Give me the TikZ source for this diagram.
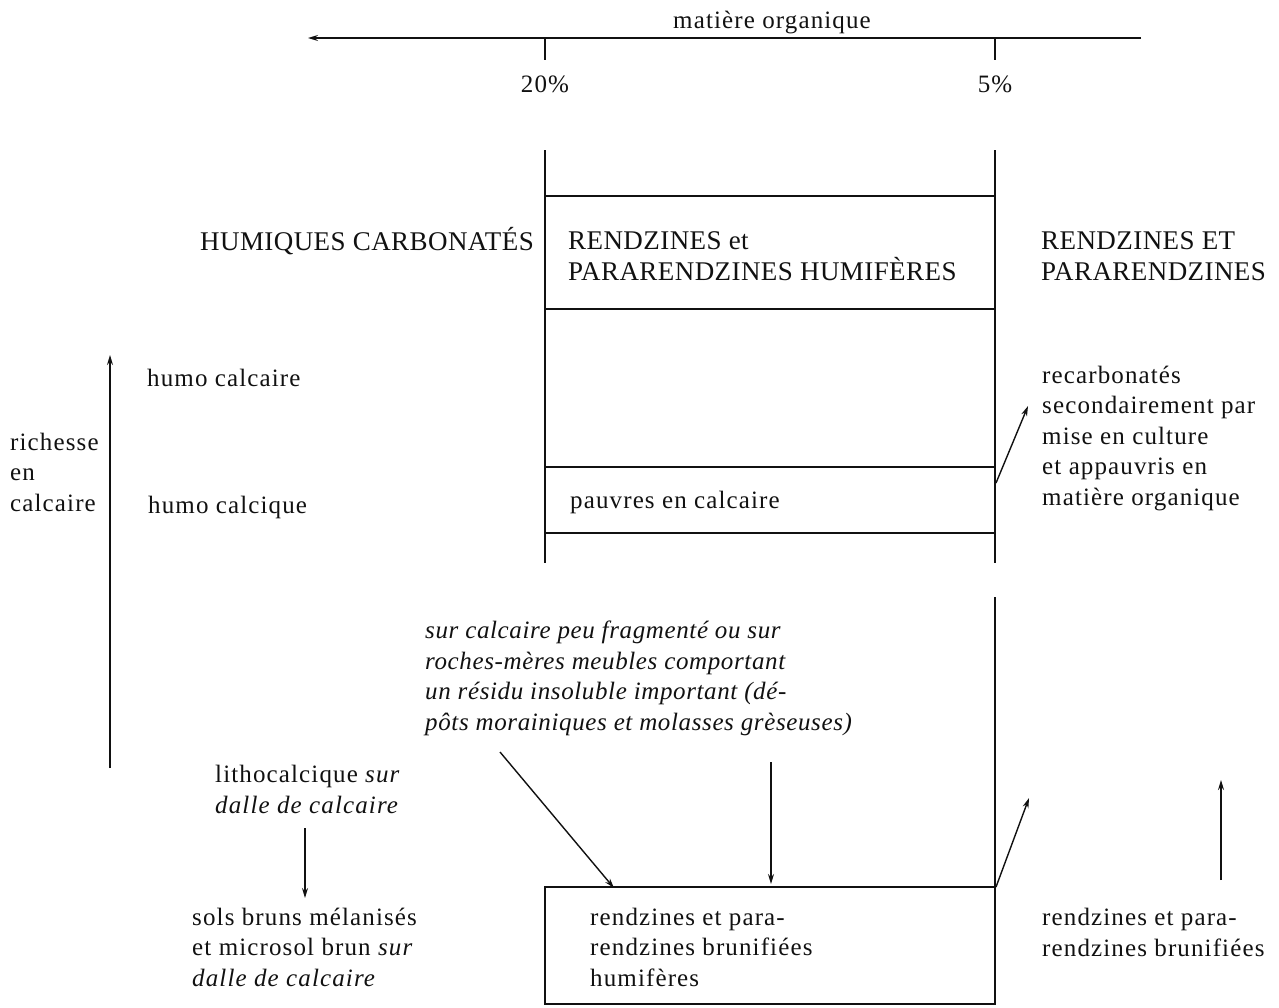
\documentclass[tikz,border=0pt]{standalone}
\usepackage{fontspec}
\setmainfont{Liberation Serif}
\newfontfamily\bodyfont[LetterSpace=4.5]{Liberation Serif}
\newfontfamily\itspaced[LetterSpace=2.5]{Liberation Serif}
\newfontfamily\headfont[LetterSpace=1.6]{Liberation Serif}
\usepackage{tikz}
\usetikzlibrary{arrows.meta}
\definecolor{soilInk}{HTML}{111111}

\tikzset{
  txt/.style={anchor=base west, inner sep=0pt, align=left,
    font=\bodyfont\fontsize{25}{30.4}\selectfont, text=soilInk},
  head/.style={txt, font=\headfont\fontsize{27}{30.4}\selectfont},
  rule/.style={draw=soilInk, line width=1.4pt},
  pointer/.style={rule, -{Stealth[length=10pt,width=6pt]}}
}

\begin{document}
\begin{tikzpicture}[x=1pt,y=-1pt]
    \useasboundingbox (0,0) rectangle (1279,1007);
    % axe de la matiere organique
    \coordinate (axL) at (308,38);
    \coordinate (axR) at (1141,38);
    \draw[pointer] (axR) -- (axL);
    \node[txt] (mo) at (673,28) {matière organique};
    \foreach \x/\p in {545/20, 995/5} {
        \draw[rule] (\x,38) -- (\x,60);
        \node[txt, anchor=base] (pc\p) at (\x,92) {\p\%};
    }
    % tableau
    \draw[rule] (545,150) -- (545,563);
    \draw[rule] (995,150) -- (995,563);
    \foreach \y in {196,309,467,533}
        \draw[rule] (545,\y) -- (995,\y);
    \draw[rule] (995,597) -- (995,887);
    \draw[rule] (545,887) rectangle (995,1004);

    % (base = derniere ligne du texte)
    \node[head] (hc) at (200,250) {HUMIQUES CARBONATÉS};
    \node[head] (rph) at (568,280) {RENDZINES et\\PARARENDZINES HUMIFÈRES};
    \node[head] (rp) at (1041,280) {RENDZINES ET\\PARARENDZINES};
    \node[txt] (hcal) at (147,386) {humo calcaire};
    \node[txt] (hcaq) at (148,513) {humo calcique};
    \node[txt] (rich) at (10,511) {richesse\\en\\calcaire};
    \node[txt] (pauv) at (570,508) {pauvres en calcaire};
    \node[txt] (recarb) at (1042,505) {recarbonatés\\secondairement par\\mise en culture\\et appauvris en\\matière organique};
    \node[txt, font=\itspaced\itshape\fontsize{25}{30.4}\selectfont] (roche) at (425,730)
        {sur calcaire peu fragmenté ou sur\\roches-mères meubles comportant\\un résidu insoluble important (dé-\\pôts morainiques et molasses grèseuses)};
    \node[txt] (litho) at (215,813) {lithocalcique \textit{sur}\\\textit{dalle de calcaire}};
    \node[txt] (sbm) at (192,986) {sols bruns mélanisés\\et microsol brun \textit{sur}\\\textit{dalle de calcaire}};
    \node[txt] (rbh) at (590,986) {rendzines et para-\\rendzines brunifiées\\humifères};
    \node[txt] (rb) at (1042,956) {rendzines et para-\\rendzines brunifiées};

    % fleches
    \coordinate (ca0) at (110,768);
    \coordinate (ca1) at (110,355);
    \draw[pointer] (ca0) -- (ca1);
    \coordinate (r0) at (996,483);
    \coordinate (r1) at (1028,406);
    \draw[pointer] (r0) -- (r1);
    \coordinate (b0) at (996,887);
    \coordinate (b1) at (1029,798);
    \draw[pointer] (b0) -- (b1);
    \coordinate (u0) at (1221,880);
    \coordinate (u1) at (1221,780);
    \draw[pointer] (u0) -- (u1);
    \coordinate (d0) at (500,752);
    \coordinate (d1) at (614,888);
    \draw[pointer] (d0) -- (d1);
    \coordinate (m0) at (771,762);
    \coordinate (m1) at (771,884);
    \draw[pointer] (m0) -- (m1);
    \coordinate (l0) at (305,828);
    \coordinate (l1) at (305,898);
    \draw[pointer] (l0) -- (l1);
\end{tikzpicture}
\end{document}
